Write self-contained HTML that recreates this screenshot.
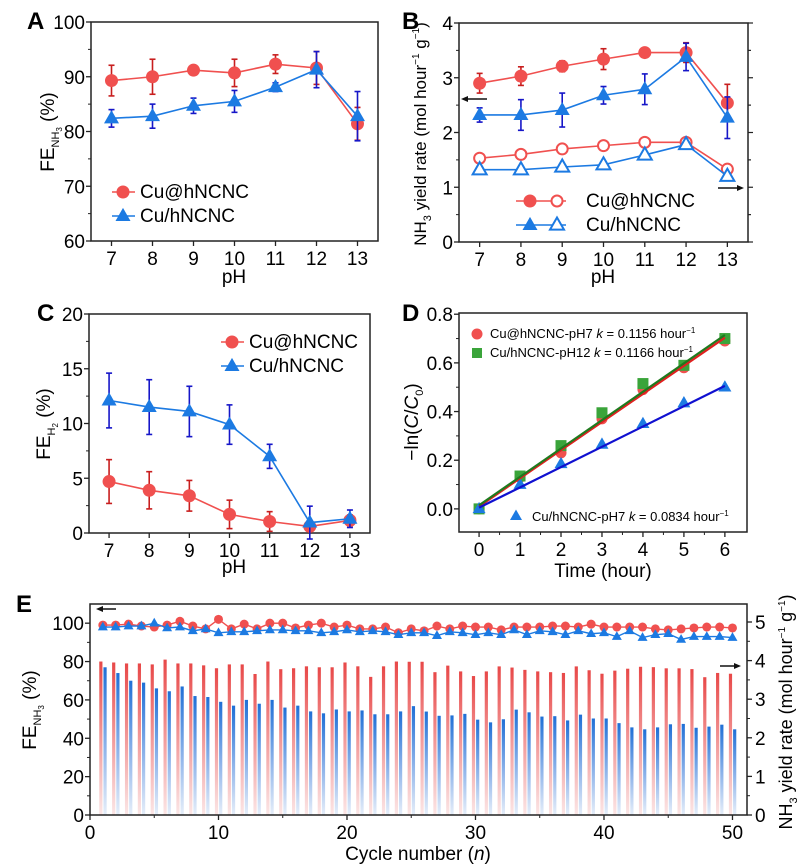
<!DOCTYPE html>
<html><head><meta charset="utf-8">
<style>
html,body{margin:0;padding:0;background:#fff;}
svg{display:block;font-family:"Liberation Sans",Arial,sans-serif;}
</style></head>
<body>
<svg id="s" width="799" height="866" viewBox="0 0 799 866" xmlns="http://www.w3.org/2000/svg">
<defs>
<linearGradient id="gr" x1="0" y1="0" x2="0" y2="1"><stop offset="0" stop-color="#e84848"/><stop offset="0.5" stop-color="#f29a9a"/><stop offset="1" stop-color="#fbe6e6"/></linearGradient>
<linearGradient id="gb" x1="0" y1="0" x2="0" y2="1"><stop offset="0" stop-color="#1f6fd6"/><stop offset="0.55" stop-color="#8fb4ea"/><stop offset="1" stop-color="#e6eef9"/></linearGradient>
</defs>
<text x="27" y="29" font-size="24" font-weight="bold">A</text>
<text x="402" y="29" font-size="24" font-weight="bold">B</text>
<text x="37" y="321" font-size="24" font-weight="bold">C</text>
<text x="402" y="321" font-size="24" font-weight="bold">D</text>
<text x="16" y="612" font-size="24" font-weight="bold">E</text>
<text x="234" y="283" font-size="19" text-anchor="middle">pH</text>
<text x="603" y="283" font-size="19" text-anchor="middle">pH</text>
<text x="234" y="573" font-size="19" text-anchor="middle">pH</text>
<text x="603" y="577" font-size="19" text-anchor="middle">Time (hour)</text>
<text x="418" y="860" font-size="19" text-anchor="middle">Cycle number (<tspan font-style="italic">n</tspan>)</text>
<text transform="translate(54,132) rotate(-90)" font-size="19" text-anchor="middle">FE<tspan font-size="11" dy="5">NH</tspan><tspan font-size="8" dy="3">3</tspan><tspan dy="-8"> (%)</tspan></text>
<text transform="translate(426,134) rotate(-90)" font-size="17" text-anchor="middle">NH<tspan font-size="11" dy="5">3</tspan><tspan dy="-5"> yield rate (mol hour</tspan><tspan font-size="10" dy="-7">−1</tspan><tspan dy="7"> g</tspan><tspan font-size="10" dy="-7">−1</tspan><tspan dy="7">)</tspan></text>
<text transform="translate(50,424) rotate(-90)" font-size="19" text-anchor="middle">FE<tspan font-size="11" dy="5">H</tspan><tspan font-size="8" dy="3">2</tspan><tspan dy="-8"> (%)</tspan></text>
<text transform="translate(418,422) rotate(-90)" font-size="19" text-anchor="middle">−ln(<tspan font-style="italic">C</tspan>/<tspan font-style="italic">C</tspan><tspan font-size="11" dy="5">0</tspan><tspan dy="-5">)</tspan></text>
<text transform="translate(36,710) rotate(-90)" font-size="19" text-anchor="middle">FE<tspan font-size="11" dy="5">NH</tspan><tspan font-size="8" dy="3">3</tspan><tspan dy="-8"> (%)</tspan></text>
<text transform="translate(792,712) rotate(-90)" font-size="18" text-anchor="middle">NH<tspan font-size="11" dy="5">3</tspan><tspan dy="-5"> yield rate (mol hour</tspan><tspan font-size="10" dy="-7">−1</tspan><tspan dy="7"> g</tspan><tspan font-size="10" dy="-7">−1</tspan><tspan dy="7">)</tspan></text>
<text x="140" y="198" font-size="19">Cu@hNCNC</text>
<text x="140" y="222" font-size="19">Cu/hNCNC</text>
<text x="586" y="207" font-size="19">Cu@hNCNC</text>
<text x="586" y="231" font-size="19">Cu/hNCNC</text>
<text x="249" y="348" font-size="19">Cu@hNCNC</text>
<text x="249" y="372" font-size="19">Cu/hNCNC</text>
<text x="490" y="338" font-size="13">Cu@hNCNC-pH7  <tspan font-style="italic">k</tspan> = 0.1156 hour<tspan font-size="8" dy="-5">−1</tspan></text>
<text x="490" y="357" font-size="13">Cu/hNCNC-pH12  <tspan font-style="italic">k</tspan> = 0.1166 hour<tspan font-size="8" dy="-5">−1</tspan></text>
<text x="532" y="521" font-size="13">Cu/hNCNC-pH7  <tspan font-style="italic">k</tspan> = 0.0834 hour<tspan font-size="8" dy="-5">−1</tspan></text>
<g id="g"></g>
</svg>
<script>
const NS="http://www.w3.org/2000/svg";const G=document.getElementById('g');
function el(t,a){const e=document.createElementNS(NS,t);for(const k in a)e.setAttribute(k,a[k]);G.appendChild(e);return e;}
function tx(x,y,s,anchor,fs){const e=el('text',{x:x,y:y,'font-size':fs||19,'text-anchor':anchor||'middle'});e.textContent=s;return e;}
function ax(b){
  b.X=v=>b.x0+(v-b.xd[0])/(b.xd[1]-b.xd[0])*(b.x1-b.x0);
  b.Y=v=>b.y1-(v-b.yd[0])/(b.yd[1]-b.yd[0])*(b.y1-b.y0);
  return b;}
function frame(b,xt,yt,yl,minorY,minorX){
  el('rect',{x:b.x0,y:b.y0,width:b.x1-b.x0,height:b.y1-b.y0,fill:'none',stroke:'#222','stroke-width':1.5});
  xt.forEach(v=>{const x=b.X(v);el('line',{x1:x,x2:x,y1:b.y1,y2:b.y1+5,stroke:'#222','stroke-width':1.3});tx(x,b.y1+24,String(v));});
  yt.forEach((v,i)=>{const y=b.Y(v);el('line',{x1:b.x0-5,x2:b.x0,y1:y,y2:y,stroke:'#222','stroke-width':1.3});tx(b.x0-6,y+7,yl?yl[i]:String(v),'end');});
  (minorY||[]).forEach(v=>{const y=b.Y(v);el('line',{x1:b.x0-3,x2:b.x0,y1:y,y2:y,stroke:'#222','stroke-width':1});});
  (minorX||[]).forEach(v=>{const x=b.X(v);el('line',{x1:x,x2:x,y1:b.y1,y2:b.y1+3,stroke:'#222','stroke-width':1});});
}
const RED='#f0504f',BLUE='#1c7ae2',DR='#c81e1e',DB='#1616c8';
function circ(x,y,r,c,hollow){el('circle',{cx:x,cy:y,r:r,fill:hollow?'#fff':c,stroke:c,'stroke-width':hollow?2:0});}
function tri(x,y,s,c,hollow){const h=s*0.87;el('polygon',{points:`${x},${y-h*0.62} ${x-s/2},${y+h*0.38} ${x+s/2},${y+h*0.38}`,fill:hollow?'#fff':c,stroke:c,'stroke-width':hollow?2:0});}
function series(b,xs,ys,es,c,ec,mk,sz,hollow,lw){
  const pts=xs.map((x,i)=>b.X(x)+','+b.Y(ys[i])).join(' ');
  el('polyline',{points:pts,fill:'none',stroke:c,'stroke-width':lw||1.6});
  if(es)xs.forEach((x,i)=>{const X=b.X(x),y1=b.Y(ys[i]-es[i]),y2=b.Y(ys[i]+es[i]);
    el('line',{x1:X,x2:X,y1:y1,y2:y2,stroke:ec,'stroke-width':1.6});
    el('line',{x1:X-3,x2:X+3,y1:y1,y2:y1,stroke:ec,'stroke-width':1.6});
    el('line',{x1:X-3,x2:X+3,y1:y2,y2:y2,stroke:ec,'stroke-width':1.6});});
  xs.forEach((x,i)=>{mk(b.X(x),b.Y(ys[i]),sz,c,hollow);});
}
const pH=[7,8,9,10,11,12,13];
let A=ax({x0:91,x1:378,y0:22,y1:241,xd:[6.5,13.5],yd:[60,100]});
frame(A,pH,[60,70,80,90,100],null,[65,75,85,95]);
series(A,pH,[89.3,90,91.2,90.7,92.3,91.6,81.4],[2.8,3.2,0.3,2.5,1.7,3,3],RED,DR,circ,6.5);
series(A,pH,[82.4,82.8,84.7,85.5,88.1,91.3,82.8],[1.6,2.2,1.4,2,0.8,3.3,4.5],BLUE,DB,tri,15);
el('line',{x1:112,x2:135,y1:192,y2:192,stroke:RED,'stroke-width':1.6});circ(123,192,6.5,RED);
el('line',{x1:112,x2:135,y1:216,y2:216,stroke:BLUE,'stroke-width':1.6});tri(123,216,15,BLUE);
let B=ax({x0:459,x1:748,y0:23,y1:242,xd:[6.5,13.5],yd:[0,4]});
frame(B,pH,[0,1,2,3,4],null,[0.5,1.5,2.5,3.5]);
[0,1,2,3,4,0.5,1.5,2.5,3.5].forEach(v=>{const y=B.Y(v);el('line',{x1:748,x2:748+(v%1?3:5),y1:y,y2:y,stroke:'#222','stroke-width':1.2});});
series(B,pH,[2.9,3.03,3.21,3.34,3.46,3.46,2.54],[0.18,0.17,0.1,0.19,0.07,0.18,0.34],RED,DR,circ,6.5);
series(B,pH,[2.32,2.32,2.41,2.68,2.79,3.38,2.27],[0.13,0.28,0.31,0.16,0.28,0.25,0.38],BLUE,DB,tri,15);
series(B,pH,[1.53,1.6,1.7,1.76,1.82,1.82,1.33],null,RED,DR,circ,5.5,true);
series(B,pH,[1.32,1.32,1.37,1.41,1.59,1.78,1.2],null,BLUE,DB,tri,14,true);
el('line',{x1:465,x2:487,y1:99,y2:99,stroke:'#111','stroke-width':1.5});el('polygon',{points:'461,99 468,96 468,102',fill:'#111'});
el('line',{x1:718,x2:739,y1:188,y2:188,stroke:'#111','stroke-width':1.5});el('polygon',{points:'744,188 737,185 737,191',fill:'#111'});
el('line',{x1:516,x2:566,y1:201,y2:201,stroke:RED,'stroke-width':1.6});circ(530,201,6.5,RED);circ(557,201,5.5,RED,true);
el('line',{x1:516,x2:566,y1:225,y2:225,stroke:BLUE,'stroke-width':1.6});tri(530,225,15,BLUE);tri(557,225,14,BLUE,true);
let C=ax({x0:89,x1:370,y0:314,y1:533,xd:[6.5,13.5],yd:[0,20]});
frame(C,pH,[0,5,10,15,20],null,[2.5,7.5,12.5,17.5]);
series(C,pH,[4.7,3.9,3.4,1.7,1.05,0.6,1.15],[2,1.7,1.4,1.3,0.9,0.3,0.5],RED,DR,circ,6.5);
series(C,pH,[12.1,11.5,11.1,9.9,7,0.95,1.3],[2.5,2.5,2.3,1.8,1.1,1.5,0.8],BLUE,DB,tri,15);
el('line',{x1:221,x2:244,y1:342,y2:342,stroke:RED,'stroke-width':1.6});circ(232,342,6.5,RED);
el('line',{x1:221,x2:244,y1:366,y2:366,stroke:BLUE,'stroke-width':1.6});tri(232,366,15,BLUE);
let D=ax({x0:459,x1:747,y0:313,y1:532,xd:[-0.49,6.54],yd:[-0.095,0.805]});
frame(D,[0,1,2,3,4,5,6],[0,0.2,0.4,0.6,0.8],['0.0','0.2','0.4','0.6','0.8'],[0.1,0.3,0.5,0.7],[0.5,1.5,2.5,3.5,4.5,5.5]);
function fit(k,b0,c){el('line',{x1:D.X(0),y1:D.Y(b0),x2:D.X(6),y2:D.Y(b0+6*k),stroke:c,'stroke-width':2.2});}
[0,0.13,0.23,0.37,0.49,0.58,0.69].forEach((v,i)=>circ(D.X(i),D.Y(v),5.5,RED));
[0,0.135,0.26,0.395,0.515,0.59,0.70].forEach((v,i)=>el('rect',{x:D.X(i)-5.5,y:D.Y(v)-5.5,width:11,height:11,fill:'#3aa43a'}));
[0,0.1,0.185,0.265,0.35,0.435,0.50].forEach((v,i)=>tri(D.X(i),D.Y(v),13,BLUE));
fit(0.1156,0.01,'#e02020');fit(0.1166,0.015,'#1e7a1e');fit(0.0834,0.005,'#1010d0');
circ(477,334,5.5,RED);el('rect',{x:472,y:348,width:10,height:10,fill:'#3aa43a'});tri(516,516,12,BLUE);
let E=ax({x0:90,x1:747,y0:604,y1:815,xd:[0,51.13],yd:[0,110]});
const R=(v)=>E.y1-v*38.6;
const redB=[80,79.5,79,79,78.5,81,79,79,78,76.5,78.5,78.5,73.5,80,76,76.5,77.5,77,77,79.5,77.5,72,77.5,80].map(v=>v*0.0497).concat([3.97,3.97,3.7,3.87,3.72,3.6,3.72,3.85,3.82,3.76,3.72,3.7,3.68,3.85,3.75,3.66,3.74,3.79,3.84,3.83,3.8,3.8,3.78,3.57,3.68,3.66]);
const bluB=[77,74,70,69,66,64.5,67,62,61.5,59,57,60,58,60,56,57,54,53,55,54,54.5,52.5,52.5,54].map(v=>v*0.0497).concat([2.82,2.68,2.57,2.58,2.62,2.47,2.4,2.48,2.73,2.66,2.55,2.56,2.45,2.6,2.5,2.5,2.38,2.27,2.22,2.27,2.35,2.36,2.26,2.29,2.34,2.22]);
for(let n=1;n<=50;n++){const x=E.X(n);
 el('rect',{x:x-3.6,y:R(redB[n-1]),width:3.2,height:E.y1-R(redB[n-1]),fill:'url(#gr)'});
 el('rect',{x:x+0.6,y:R(bluB[n-1]),width:3.2,height:E.y1-R(bluB[n-1]),fill:'url(#gb)'});}
frame(E,[0,10,20,30,40,50],[0,20,40,60,80,100],null,[10,30,50,70,90],[5,15,25,35,45]);
[0,1,2,3,4,5].forEach(v=>{const y=R(v);el('line',{x1:747,x2:752,y1:y,y2:y,stroke:'#222','stroke-width':1.3});tx(755,y+7,String(v),'start');});
[0.5,1.5,2.5,3.5,4.5].forEach(v=>{const y=R(v);el('line',{x1:747,x2:750,y1:y,y2:y,stroke:'#222','stroke-width':1});});
const N=[];for(let n=1;n<=50;n++)N.push(n);
const redL=[99,99,99.5,98.5,98,99,101,98.5,97,102,97,99.5,97,100,100,97.5,99,100,98,99,97,97,98,95,97,96,98.5,97,98.5,98,98,96.5,98,98,98,98.5,98.5,98,99.5,98,98,98,98,97,96.5,97,97.5,98,98,97.5];
const bluL=[98,98,98.5,98.5,100,97.5,98,96,97,95,95.5,95.5,96,96.5,96.5,96,96,95,95.5,96.5,95.5,96,95.5,94,95,95,93.5,95.5,95,94,95,94,96.5,94,96,95.5,94,96,94.5,95,93,96,92.5,94,94.5,91.5,93,93,93,92.5];
series(E,N,redL,null,RED,DR,circ,4.5,false,1.4);
series(E,N,bluL,null,BLUE,DB,tri,10,false,1.4);
el('line',{x1:100,x2:116,y1:609,y2:609,stroke:'#111','stroke-width':1.5});el('polygon',{points:'96,609 103,606 103,612',fill:'#111'});
el('line',{x1:720,x2:736,y1:666,y2:666,stroke:'#111','stroke-width':1.5});el('polygon',{points:'741,666 734,663 734,669',fill:'#111'});
</script>
</body></html>
